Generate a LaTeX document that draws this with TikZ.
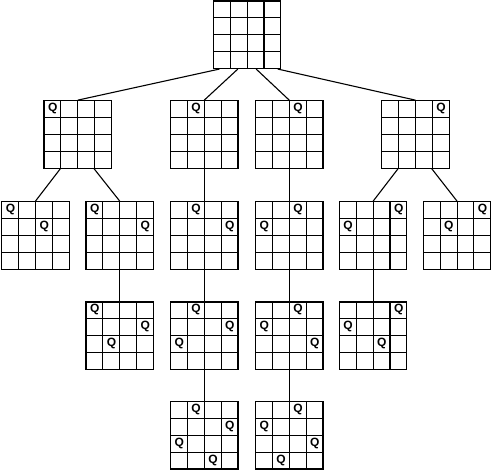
\documentclass[tikz,border=0pt]{standalone}
\usepackage{fontspec}
\setmainfont{Liberation Sans}
\setsansfont{Liberation Sans}
\newfontfamily\qfont{Liberation Sans}
\usetikzlibrary{calc}
\begin{document}
\begin{tikzpicture}[x=1pt,y=1pt,
  board/.style={draw, rectangle, minimum size=67.5pt, inner sep=0pt, line width=1.1pt,
    path picture={
      \foreach \k in {1,2,3} {
        \draw[line width=1.1pt] ($(path picture bounding box.north west)+(\k*16.875,0)$) -- ++(0,-67.5);
        \draw[line width=1.1pt] ($(path picture bounding box.north west)+(0,-\k*16.875)$) -- ++(67.5,0);
      }
    }},
  queen/.style={inner sep=0pt, font=\qfont\bfseries\fontsize{12}{13}\selectfont},
  link/.style={line width=1.1pt}
]
\useasboundingbox (0,0) rectangle (493,-470);
\newcommand{\brd}[3]{\node[board] (#1) at ({#2+33.75},{-(#3+33.75)}) {};}
\newcommand{\qn}[3]{\node[queen] (#1q#2#3) at ($(#1.north west)+({(#2+0.55)*16.875},{-(#3+0.5)*16.875})$) {Q};}
% level 0
\brd{R}{213.4}{1}
% level 1
\brd{B1}{44}{100.7}
\brd{D1}{170.5}{100.7}
\brd{E1}{255.5}{100.7}
\brd{G1}{381.7}{100.7}
% level 2
\brd{A2}{1.7}{201.7}
\brd{C2}{86}{201.7}
\brd{D2}{170.5}{201.7}
\brd{E2}{255.5}{201.7}
\brd{F2}{339.4}{201.7}
\brd{H2}{423.3}{201.7}
% level 3
\brd{C3}{86}{302}
\brd{D3}{170.5}{302}
\brd{E3}{255.5}{302}
\brd{F3}{339.4}{302}
% level 4
\brd{D4}{170.5}{401.5}
\brd{E4}{255.5}{401.5}
% queens
\qn{B1}{0}{0}
\qn{D1}{1}{0}
\qn{E1}{2}{0}
\qn{G1}{3}{0}
\qn{A2}{0}{0}\qn{A2}{2}{1}
\qn{C2}{0}{0}\qn{C2}{3}{1}
\qn{D2}{1}{0}\qn{D2}{3}{1}
\qn{E2}{2}{0}\qn{E2}{0}{1}
\qn{F2}{3}{0}\qn{F2}{0}{1}
\qn{H2}{3}{0}\qn{H2}{1}{1}
\qn{C3}{0}{0}\qn{C3}{3}{1}\qn{C3}{1}{2}
\qn{D3}{1}{0}\qn{D3}{3}{1}\qn{D3}{0}{2}
\qn{E3}{2}{0}\qn{E3}{0}{1}\qn{E3}{3}{2}
\qn{F3}{3}{0}\qn{F3}{0}{1}\qn{F3}{2}{2}
\qn{D4}{1}{0}\qn{D4}{3}{1}\qn{D4}{0}{2}\qn{D4}{2}{3}
\qn{E4}{2}{0}\qn{E4}{0}{1}\qn{E4}{3}{2}\qn{E4}{1}{3}
% connectors
\draw[link] ($(R.south west)+(6.6,0)$) -- (B1.north);
\draw[link] ($(R.south west)+(25,0)$) -- (D1.north);
\draw[link] ($(R.south west)+(43.3,0)$) -- (E1.north);
\draw[link] ($(R.south west)+(64.9,0)$) -- (G1.north);
\draw[link] ($(B1.south west)+(16.875,0)$) -- (A2.north);
\draw[link] ($(B1.south west)+(50.625,0)$) -- (C2.north);
\draw[link] ($(G1.south west)+(16.875,0)$) -- (F2.north);
\draw[link] ($(G1.south west)+(50.625,0)$) -- (H2.north);
\draw[link] (D1.south) -- (D2.north);
\draw[link] (D2.south) -- (D3.north);
\draw[link] (D3.south) -- (D4.north);
\draw[link] (E1.south) -- (E2.north);
\draw[link] (E2.south) -- (E3.north);
\draw[link] (E3.south) -- (E4.north);
\draw[link] (C2.south) -- (C3.north);
\draw[link] (F2.south) -- (F3.north);
\end{tikzpicture}
\end{document}
